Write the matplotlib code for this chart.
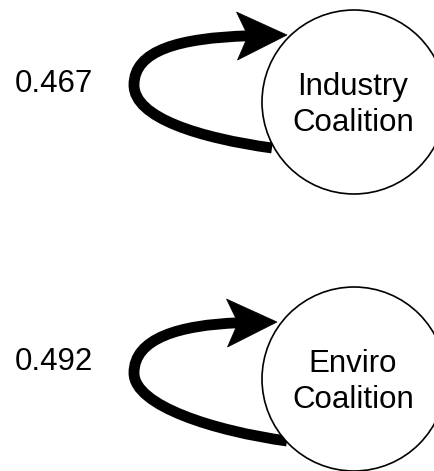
import matplotlib.pyplot as plt
from matplotlib.patches import Circle, PathPatch, Polygon
from matplotlib.path import Path
import numpy as np

# node labels and self-loop weights
labels = ["Industry\nCoalition", "Enviro\nCoalition"]
weights = [0.467, 0.492]

# layout in pixels (y down): circle centre, loop start, leftmost, head base, tip
centers = [(354, 102), (354, 379)]
loop_start = [(272, 148), (287, 441)]
loop_left = [(134, 85), (134, 373)]
head_base = [(239, 36), (229, 323)]
head_tip = [(287, 35), (277, 322)]
label_pos = [(15, 92), (15, 370)]
R = 92

fig = plt.figure(figsize=(4.35, 4.71), dpi=100)
ax = fig.add_axes([0, 0, 1, 1])
ax.set_xlim(0, 435)
ax.set_ylim(471, 0)
ax.axis("off")

plt.rcParams['font.family'] = ['Liberation Sans', 'DejaVu Sans']

for i in range(len(labels)):
    cx, cy = centers[i]
    ax.add_patch(Circle((cx, cy), R, facecolor="white", edgecolor="black", lw=1.2, zorder=2))
    ax.text(cx - 1, cy + 3, labels[i], ha="center", va="center", fontsize=22.5,
            linespacing=1.25, zorder=3)

    S = np.array(loop_start[i], float)
    L = np.array(loop_left[i], float)
    B = np.array(head_base[i], float)
    T = np.array(head_tip[i], float)
    verts = [S, (S[0] - 72, S[1] - 10), (L[0], L[1] + 33), L,
             (L[0], L[1] - 35), (L[0] + 46, B[1] + 2), B + (T - B) * 0.2]
    codes = [Path.MOVETO] + [Path.CURVE4] * 6
    ax.add_patch(PathPatch(Path(verts, codes), facecolor="none", edgecolor="black",
                           lw=7.8, capstyle="butt", zorder=1))

    # arrow head with a slight notch at the back
    d = (T - B) / np.linalg.norm(T - B)
    n = np.array([-d[1], d[0]])
    head = [T, B + n * 24 - d * 2, B + d * 9, B - n * 24 - d * 2]
    ax.add_patch(Polygon(head, closed=True, facecolor="black", edgecolor="black",
                         lw=0.5, zorder=4))

    ax.text(label_pos[i][0], label_pos[i][1], f"{weights[i]:.3f}", ha="left",
            va="baseline", fontsize=22.5)

fig.savefig("out.png", dpi=100)
